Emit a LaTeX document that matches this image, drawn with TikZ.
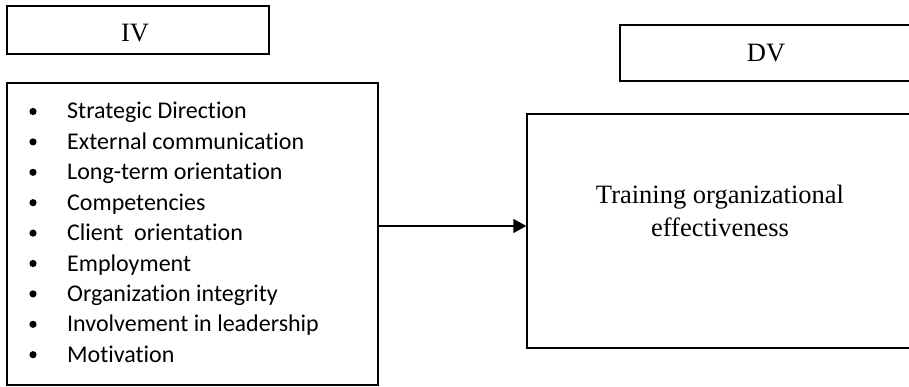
\documentclass[tikz,border=0pt]{standalone}
\usepackage{fontspec}
\setmainfont{Liberation Serif}
\newfontfamily\calibri[Ligatures=NoCommon]{Carlito}
\usetikzlibrary{arrows.meta}
\begin{document}
\begin{tikzpicture}[x=1pt,y=-1pt,
  box/.style={draw, line width=1.3pt, inner sep=0pt, rectangle},
  itemtext/.style={anchor=base west, inner sep=0pt, font=\calibri\fontsize{24}{28}\selectfont},
  serif/.style={font=\fontsize{26.5}{32.5}\selectfont, inner sep=0pt},
  arrowline/.style={line width=1.3pt, -{Triangle[length=13pt,width=14pt]}}]
\useasboundingbox (0,0) rectangle (909,387);
\clip (0,0) rectangle (909,387);
% boxes
\node[box, minimum width=262pt, minimum height=48pt] (iv) at (138,30) {};
\node[serif, anchor=base] (ivlabel) at (135,41.7) {IV};
\node[box, minimum width=371pt, minimum height=302pt] (list) at (192.5,234) {};
\node[box, minimum width=292pt, minimum height=56pt] (dv) at (766,53) {};
\node[serif, anchor=base] (dvlabel) at (766,61.7) {DV};
\node[box, minimum width=386pt, minimum height=234pt] (rb) at (720,231) {};
\node[serif, align=center] (rbtext) at (720,211) {Training organizational\\effectiveness};
% list items
\foreach \t [count=\i] in {Strategic Direction, External communication, Long-term orientation, Competencies, {Client\ \ orientation}, Employment, Organization integrity, Involvement in leadership, Motivation} {
  \fill (33,{119+30.4*(\i-1)-7.5}) circle (3.6pt);
  \node[itemtext] (item\i) at (67,{119+30.4*(\i-1)}) {\t};
}
% arrow
\coordinate (ay) at (0,226);
\draw[arrowline] (list.east |- ay) -- (rb.west |- ay);
\end{tikzpicture}
\end{document}
